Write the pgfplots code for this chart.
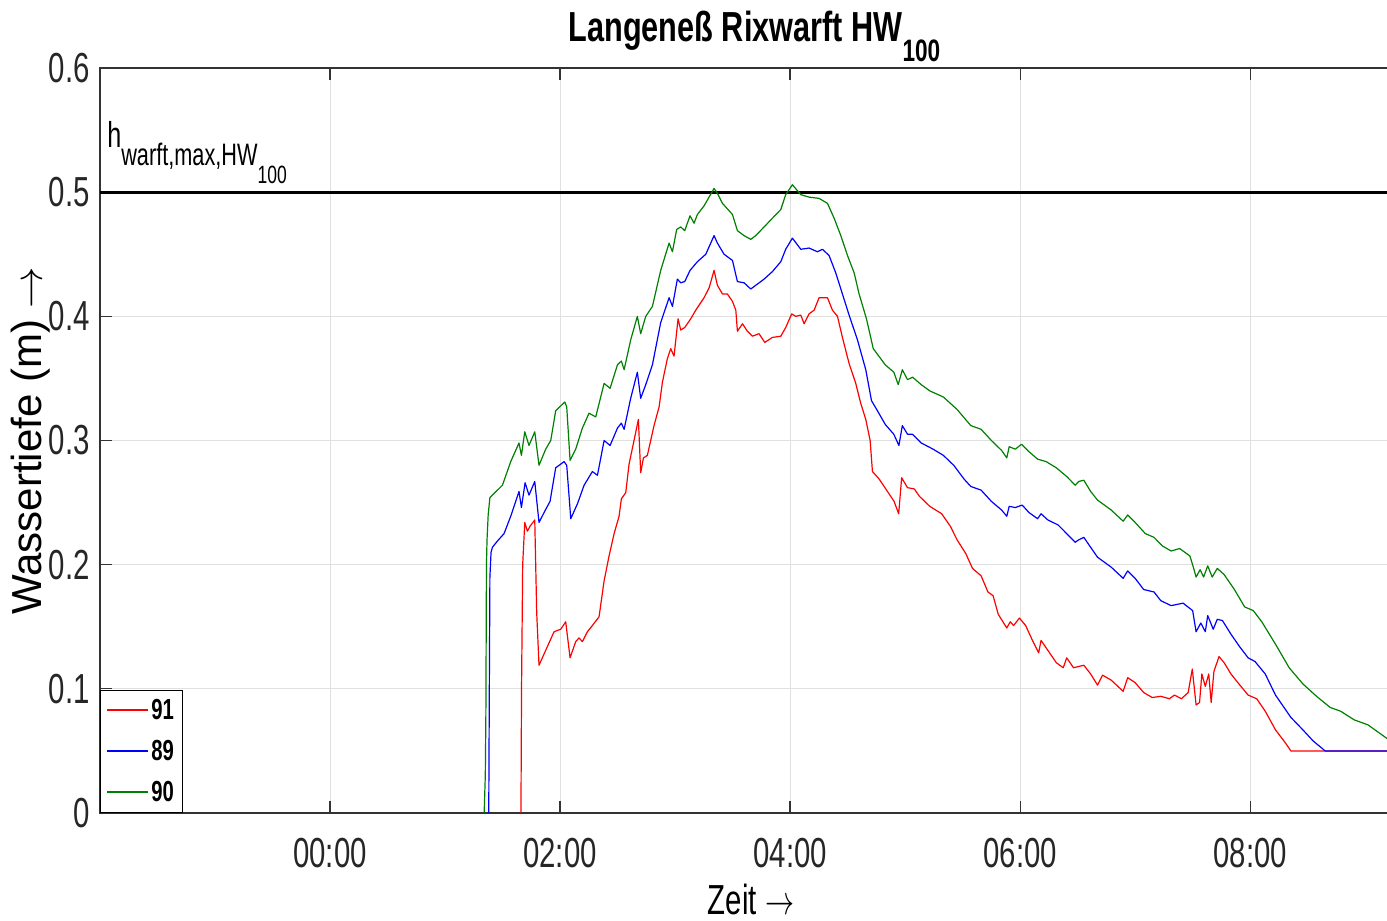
\documentclass[border=0pt]{standalone}
\usepackage{pgfplots}
\pgfplotsset{compat=1.18}
\usepackage{fontspec}
\setmainfont{Liberation Sans}[FakeStretch=0.7]
\newfontfamily\rotfont{Liberation Sans}
\newfontfamily\titlefont{Liberation Sans}[FakeStretch=0.73]
\definecolor{mred}{rgb}{1,0,0}
\definecolor{mblue}{rgb}{0,0,1}
\definecolor{mgreen}{rgb}{0,0.5,0}
\begin{document}
\begin{tikzpicture}
\begin{axis}[
  scale only axis,
  width=645pt, height=372.5pt,
  xmin=-2, xmax=9.2161, ymin=0, ymax=0.6,
  xtick={0,2,4,6,8}, xticklabels={00:00,02:00,04:00,06:00,08:00},
  ytick={0,0.1,0.2,0.3,0.4,0.5,0.6}, yticklabels={0,0.1,0.2,0.3,0.4,0.5,0.6},
  ytick pos=left,
  tick align=inside, major tick length=6pt,
  tick style={black!80, line width=0.6pt},
  axis line style={black!80, line width=0.8pt},
  grid=major, major grid style={black!12, line width=0.5pt},
  ticklabel style={font=\fontsize{21}{24}\selectfont, text=black!85},
  yticklabel style={inner sep=0pt, xshift=-5pt},
  xticklabel style={inner sep=0pt, yshift=-12.5pt},
  title={Langeneß Rixwarft HW\raisebox{-10pt}{\fontsize{15.5}{17}\selectfont 100}},
  title style={at={(axis description cs:0.5,1)}, anchor=base, yshift=7.5pt, xshift=4.75pt, inner sep=0pt, font=\fontsize{21}{24}\selectfont\titlefont\bfseries},
  xlabel={Zeit \scalebox{0.7}[1]{$\rightarrow$}},
  xlabel style={at={(axis description cs:0.5,0)}, anchor=north, yshift=-35.5pt, xshift=3pt, inner sep=0pt, font=\fontsize{21}{24}\selectfont},
  ylabel={Wassertiefe (m) $\rightarrow$},
  ylabel style={at={(axis description cs:-0.0535,0.5)}, anchor=center, inner sep=0pt, font=\fontsize{21}{24}\selectfont\rotfont},
  legend style={at={(0,0)}, anchor=south west, draw=black, fill=white, font=\fontsize{14.5}{16}\selectfont\bfseries, inner xsep=3pt, inner ysep=3pt, row sep=7pt, cells={anchor=west}, nodes={inner sep=1pt}},
  legend image code/.code={\draw[#1, line width=1pt] (0pt,0.25pt) -- (20.5pt,0.25pt);},
  no markers,
  every axis plot/.append style={line width=0.6pt, line join=round},
]
\addplot[black, line width=1.5pt, forget plot] coordinates {(-2,0.5) (9.2161,0.5)};

\addplot[color=mred] coordinates {
(1.66,0) (1.665,0.1) (1.675,0.2) (1.693,0.234) (1.716,0.227) (1.739,0.231) (1.780,0.236) (1.797,0.161) (1.817,0.119) (1.875,0.131) (1.948,0.146) (2.006,0.148) (2.049,0.154) (2.087,0.125) (2.136,0.138) (2.165,0.141) (2.194,0.138) (2.238,0.146) (2.281,0.151) (2.339,0.158) (2.383,0.187) (2.426,0.207) (2.470,0.225) (2.513,0.239) (2.533,0.253) (2.571,0.258) (2.600,0.281) (2.643,0.300) (2.681,0.317) (2.701,0.274) (2.725,0.286) (2.759,0.288) (2.817,0.312) (2.861,0.327) (2.890,0.347) (2.933,0.366) (2.962,0.374) (2.991,0.368) (3.026,0.398) (3.049,0.389) (3.084,0.391) (3.136,0.398) (3.180,0.405) (3.252,0.415) (3.296,0.423) (3.339,0.437) (3.368,0.425) (3.412,0.418) (3.455,0.418) (3.499,0.412) (3.528,0.405) (3.542,0.388) (3.586,0.394) (3.629,0.388) (3.672,0.384) (3.730,0.386) (3.780,0.379) (3.846,0.383) (3.919,0.384) (3.962,0.391) (4.014,0.402) (4.049,0.400) (4.093,0.401) (4.122,0.394) (4.165,0.402) (4.209,0.405) (4.252,0.415) (4.325,0.415) (4.368,0.405) (4.412,0.400) (4.455,0.383) (4.513,0.362) (4.571,0.346) (4.614,0.330) (4.658,0.317) (4.696,0.300) (4.716,0.275) (4.774,0.269) (4.832,0.261) (4.904,0.251) (4.944,0.241) (4.970,0.270) (5.021,0.262) (5.080,0.261) (5.125,0.255) (5.214,0.247) (5.318,0.241) (5.393,0.231) (5.452,0.220) (5.527,0.209) (5.586,0.197) (5.661,0.191) (5.720,0.178) (5.765,0.175) (5.810,0.160) (5.884,0.149) (5.914,0.154) (5.943,0.151) (5.994,0.157) (6.048,0.151) (6.107,0.139) (6.161,0.129) (6.182,0.139) (6.241,0.131) (6.315,0.121) (6.375,0.117) (6.405,0.125) (6.464,0.117) (6.554,0.119) (6.613,0.112) (6.673,0.103) (6.717,0.111) (6.792,0.107) (6.896,0.098) (6.935,0.109) (7.000,0.105) (7.074,0.097) (7.149,0.093) (7.223,0.094) (7.298,0.092) (7.342,0.095) (7.402,0.092) (7.461,0.097) (7.497,0.116) (7.530,0.087) (7.560,0.089) (7.580,0.112) (7.610,0.102) (7.640,0.112) (7.661,0.089) (7.685,0.114) (7.729,0.126) (7.774,0.121) (7.833,0.112) (7.893,0.105) (7.982,0.095) (8.057,0.092) (8.131,0.082) (8.220,0.067) (8.310,0.056) (8.354,0.050) (9.2161,0.050)
};
\addlegendentry{91}

\addplot[color=mblue] coordinates {
(1.38,0) (1.385,0.1) (1.39,0.19) (1.40,0.21) (1.412,0.214) (1.455,0.219) (1.513,0.225) (1.571,0.239) (1.643,0.259) (1.664,0.246) (1.696,0.266) (1.730,0.256) (1.780,0.267) (1.817,0.234) (1.861,0.242) (1.913,0.251) (1.962,0.278) (2.035,0.283) (2.058,0.280) (2.093,0.237) (2.151,0.249) (2.209,0.264) (2.281,0.275) (2.325,0.272) (2.383,0.300) (2.435,0.296) (2.499,0.310) (2.533,0.314) (2.557,0.309) (2.614,0.334) (2.672,0.355) (2.701,0.334) (2.745,0.345) (2.803,0.361) (2.875,0.395) (2.948,0.415) (2.977,0.408) (3.020,0.430) (3.049,0.427) (3.084,0.428) (3.130,0.437) (3.194,0.444) (3.267,0.450) (3.339,0.465) (3.368,0.459) (3.426,0.450) (3.499,0.445) (3.542,0.428) (3.600,0.427) (3.658,0.422) (3.716,0.426) (3.774,0.430) (3.846,0.436) (3.919,0.444) (3.962,0.454) (4.020,0.463) (4.093,0.454) (4.165,0.455) (4.238,0.452) (4.281,0.454) (4.339,0.449) (4.397,0.435) (4.455,0.418) (4.513,0.401) (4.586,0.381) (4.658,0.357) (4.708,0.332) (4.753,0.325) (4.827,0.313) (4.902,0.305) (4.946,0.296) (4.976,0.312) (5.021,0.305) (5.065,0.305) (5.140,0.298) (5.244,0.293) (5.333,0.288) (5.423,0.280) (5.512,0.269) (5.571,0.263) (5.661,0.260) (5.750,0.251) (5.839,0.244) (5.884,0.239) (5.905,0.247) (5.958,0.246) (6.018,0.248) (6.077,0.242) (6.152,0.237) (6.182,0.241) (6.241,0.236) (6.330,0.232) (6.405,0.225) (6.479,0.218) (6.509,0.220) (6.554,0.222) (6.613,0.214) (6.673,0.206) (6.792,0.198) (6.896,0.189) (6.935,0.195) (7.000,0.189) (7.074,0.180) (7.164,0.178) (7.223,0.171) (7.313,0.167) (7.417,0.169) (7.500,0.163) (7.530,0.146) (7.571,0.153) (7.610,0.146) (7.631,0.159) (7.679,0.148) (7.714,0.156) (7.759,0.155) (7.833,0.144) (7.908,0.134) (7.982,0.125) (8.042,0.122) (8.131,0.112) (8.220,0.095) (8.354,0.077) (8.458,0.067) (8.548,0.058) (8.652,0.050) (9.2161,0.050)
};
\addlegendentry{89}

\addplot[color=mgreen] coordinates {
(1.34,0) (1.35,0.03) (1.355,0.08) (1.36,0.2) (1.365,0.22) (1.375,0.24) (1.39,0.254) (1.499,0.264) (1.571,0.283) (1.643,0.298) (1.664,0.288) (1.693,0.307) (1.730,0.296) (1.780,0.307) (1.817,0.280) (1.875,0.293) (1.919,0.300) (1.962,0.324) (2.041,0.331) (2.058,0.327) (2.087,0.284) (2.136,0.293) (2.194,0.310) (2.252,0.322) (2.310,0.319) (2.383,0.346) (2.435,0.342) (2.499,0.361) (2.533,0.364) (2.557,0.357) (2.614,0.381) (2.672,0.400) (2.701,0.386) (2.745,0.400) (2.803,0.408) (2.875,0.437) (2.948,0.459) (2.977,0.452) (3.014,0.470) (3.049,0.472) (3.084,0.469) (3.130,0.481) (3.165,0.475) (3.194,0.482) (3.252,0.489) (3.339,0.503) (3.368,0.499) (3.412,0.491) (3.499,0.482) (3.542,0.469) (3.600,0.465) (3.658,0.462) (3.701,0.465) (3.774,0.472) (3.846,0.479) (3.919,0.486) (3.962,0.498) (4.020,0.506) (4.093,0.498) (4.165,0.496) (4.252,0.495) (4.325,0.491) (4.383,0.479) (4.441,0.465) (4.499,0.449) (4.557,0.435) (4.600,0.418) (4.664,0.398) (4.723,0.374) (4.827,0.361) (4.902,0.355) (4.940,0.345) (4.976,0.357) (5.021,0.349) (5.065,0.351) (5.140,0.345) (5.214,0.340) (5.333,0.335) (5.452,0.325) (5.571,0.312) (5.661,0.309) (5.750,0.300) (5.839,0.292) (5.884,0.286) (5.905,0.295) (5.958,0.293) (6.012,0.297) (6.077,0.291) (6.152,0.285) (6.226,0.283) (6.315,0.278) (6.405,0.271) (6.479,0.264) (6.509,0.267) (6.554,0.268) (6.613,0.259) (6.673,0.252) (6.792,0.244) (6.896,0.235) (6.935,0.240) (7.000,0.234) (7.089,0.225) (7.164,0.222) (7.238,0.215) (7.313,0.211) (7.387,0.213) (7.476,0.207) (7.506,0.198) (7.530,0.190) (7.565,0.196) (7.595,0.190) (7.631,0.199) (7.670,0.190) (7.714,0.197) (7.774,0.192) (7.863,0.180) (7.952,0.166) (8.027,0.163) (8.101,0.154) (8.220,0.136) (8.339,0.117) (8.458,0.104) (8.577,0.094) (8.696,0.085) (8.786,0.082) (8.905,0.075) (9.024,0.071) (9.19,0.060) (9.2161,0.059)
};
\addlegendentry{90}

\node[anchor=base west, inner sep=0pt, font=\fontsize{18}{20}\selectfont] at (axis cs:-1.94,0.536)
  {h\raisebox{-9pt}{\fontsize{15.5}{17}\selectfont warft,max,HW\raisebox{-9pt}{\fontsize{12.5}{14}\selectfont 100}}};

\coordinate (sw) at (rel axis cs:0,0);
\end{axis}
\pgfresetboundingbox
\path ([xshift=-50pt,yshift=-54pt]sw) rectangle ([xshift=643.5pt,yshift=406.5pt]sw);
\end{tikzpicture}
\end{document}
